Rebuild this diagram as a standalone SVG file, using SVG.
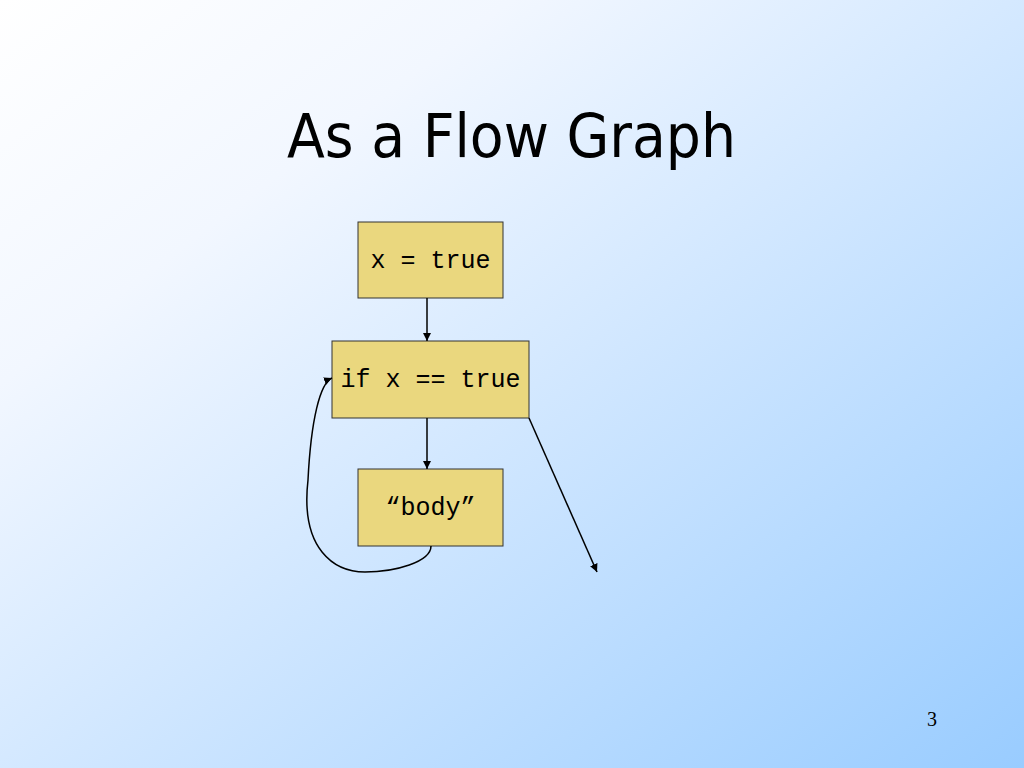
<svg xmlns="http://www.w3.org/2000/svg" width="1024" height="768" viewBox="0 0 1024 768">
<defs>
<linearGradient id="bg" x1="0" y1="0" x2="1" y2="1">
<stop offset="0" stop-color="#FFFFFF"/>
<stop offset="0.25" stop-color="#F2F7FF"/>
<stop offset="1" stop-color="#99CCFF"/>
</linearGradient>
<marker id="arr" viewBox="0 0 10 10" refX="10" refY="5" markerWidth="8" markerHeight="8" markerUnits="userSpaceOnUse" orient="auto">
<path d="M0,0 L10,5 L0,10 z" fill="#000"/>
</marker>
<style>
.box{fill:#EAD77E;stroke:#333;stroke-width:1}
.code{font-family:"Liberation Mono","Courier New",monospace;font-size:25px;fill:#000;text-anchor:middle}
.edge{fill:none;stroke:#000;stroke-width:1.5;marker-end:url(#arr)}
</style>
</defs>
<rect width="1024" height="768" fill="url(#bg)"/>
<text x="511.5" y="157" font-family="DejaVu Sans, Verdana, sans-serif" font-size="60" text-anchor="middle" textLength="449" lengthAdjust="spacingAndGlyphs" fill="#000">As a Flow Graph</text>
<g id="n1"><rect class="box" x="358" y="222" width="145" height="76"/><text class="code" x="430.5" y="268">x = true</text></g>
<g id="n2"><rect class="box" x="332" y="341" width="197" height="77"/><text class="code" x="430.5" y="387">if x == true</text></g>
<g id="n3"><rect class="box" x="358" y="469" width="145" height="77"/><text class="code" x="430.5" y="515">“body”</text></g>
<g id="edges">
<path class="edge" d="M427,298 L427,341"/>
<path class="edge" d="M427,418 L427,469"/>
<path class="edge" d="M529,418 L597,572"/>
<path class="edge" d="M431,546 C431,562 395,572 365,572 C335,572 300,550 308,480 C311,420 320,383 332,378"/>
</g>
<text x="932" y="726" font-family="Liberation Serif, Times New Roman, serif" font-size="20" text-anchor="middle" fill="#000">3</text>
</svg>
